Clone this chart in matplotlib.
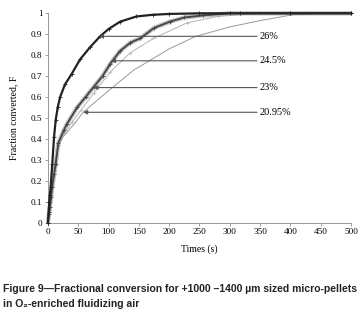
import matplotlib
matplotlib.use("Agg")
import matplotlib.pyplot as plt

# =======================
# DATA
# =======================
t26 = [0, 1, 2, 3, 4.4, 7, 10, 12.7, 16, 20, 28, 39, 53, 70, 86, 100, 119, 146, 173, 200, 250, 317, 400, 500]
f26 = [0, 0.05, 0.1, 0.13, 0.17, 0.28, 0.41, 0.49, 0.55, 0.6, 0.66, 0.71, 0.78, 0.84, 0.89, 0.925, 0.96, 0.985, 0.993, 0.997, 1.0, 1.0, 1.0, 1.0]

t245 = [0, 1.5, 3.3, 5, 7, 10, 12.7, 17, 26, 31, 48, 62, 76, 90, 103, 119, 136, 152, 175, 201, 225, 256, 300, 400, 500]
f245 = [0, 0.04, 0.075, 0.12, 0.17, 0.23, 0.28, 0.38, 0.44, 0.47, 0.55, 0.6, 0.65, 0.7, 0.76, 0.82, 0.86, 0.88, 0.93, 0.96, 0.98, 0.99, 1.0, 1.0, 1.0]

t23 = [0, 2, 4, 7, 10, 14, 18, 28, 40, 55, 76, 103, 135, 174, 230, 280, 350, 500]
f23 = [0, 0.06, 0.11, 0.18, 0.25, 0.32, 0.37, 0.43, 0.48, 0.54, 0.62, 0.72, 0.81, 0.88, 0.955, 0.985, 1.0, 1.0]

t2095 = [0, 2, 4, 7, 11, 17, 25, 43, 59, 100, 142, 154, 174, 200, 244, 300, 350, 404, 450, 500]
f2095 = [0, 0.07, 0.12, 0.19, 0.28, 0.37, 0.41, 0.47, 0.53, 0.63, 0.73, 0.75, 0.785, 0.83, 0.89, 0.935, 0.965, 0.993, 1.0, 1.0]

# arrow labels: text, y level, arrow head time
labels = ["26%", "24.5%", "23%", "20.95%"]
label_f = [0.89, 0.773, 0.645, 0.527]
head_t = [84, 104, 75, 58]

xticks = [0, 50, 100, 150, 200, 250, 300, 350, 400, 450, 500]
yticks = [0, 0.1, 0.2, 0.3, 0.4, 0.5, 0.6, 0.7, 0.8, 0.9, 1]

# =======================
# STYLE
# =======================
SERIF = "Liberation Serif"
TICK_FS = 6.6

fig = plt.figure(figsize=(3.61, 3.17), dpi=100)
ax = fig.add_axes([0.133, 0.298, 0.839, 0.66])

# thin / light series first, heavy ones on top
ax.plot(t2095, f2095, color="#9a9a9a", lw=0.7, clip_on=False, zorder=2)
ax.plot(t23, f23, color="#b4b4b4", lw=0.7, marker="+", ms=2.5, mew=0.5,
        mec="#b8b8b8", clip_on=False, zorder=3)
ax.plot(t245, f245, color="#9c9c9c", lw=3.2, alpha=0.6, solid_capstyle="round",
        clip_on=False, zorder=4)
ax.plot(t245, f245, color="#444444", lw=1.3, marker="+", ms=3, mew=0.6,
        clip_on=False, zorder=5)
ax.plot(t26, f26, color="#222222", lw=1.6, marker="+", ms=3.5, mew=0.6,
        clip_on=False, zorder=6)

# arrows pointing at each curve
for lab, fy, th in zip(labels, label_f, head_t):
    ax.annotate("", xy=(th, fy), xytext=(345, fy),
                arrowprops=dict(arrowstyle="-|>", color="#555555", lw=0.8,
                                mutation_scale=6, shrinkA=0, shrinkB=0),
                zorder=7)
    ax.text(350, fy, lab, fontsize=7.4, family=SERIF, va="center", ha="left")

ax.set_xlim(0, 500)
ax.set_ylim(0, 1)
ax.set_xticks(xticks)
ax.set_yticks(yticks)
ax.set_xticklabels([str(v) for v in xticks], family=SERIF, fontsize=TICK_FS)
ax.set_yticklabels([("%g" % v) for v in yticks], family=SERIF, fontsize=TICK_FS)
ax.tick_params(length=2, width=0.5, color="#777777", pad=2)
for s in ["top", "right"]:
    ax.spines[s].set_visible(False)
for s in ["left", "bottom"]:
    ax.spines[s].set_color("#888888")
    ax.spines[s].set_linewidth(0.6)

ax.set_xlabel("Times (s)", family=SERIF, fontsize=7, labelpad=6)
ax.set_ylabel("Fraction converted, F", family=SERIF, fontsize=7, labelpad=9)

# caption
cap_font = ["Liberation Sans", "DejaVu Sans"]
fig.text(0.008, 0.078, "Figure 9\u2014Fractional conversion for +1000 \u20131400 \u00b5m sized micro-pellets",
         family=cap_font, fontsize=7.5, fontweight="bold", color="#222222")
fig.text(0.008, 0.032, "in O\u2082-enriched fluidizing air",
         family=cap_font, fontsize=7.5, fontweight="bold", color="#222222")

fig.savefig("out.png", dpi=100)
